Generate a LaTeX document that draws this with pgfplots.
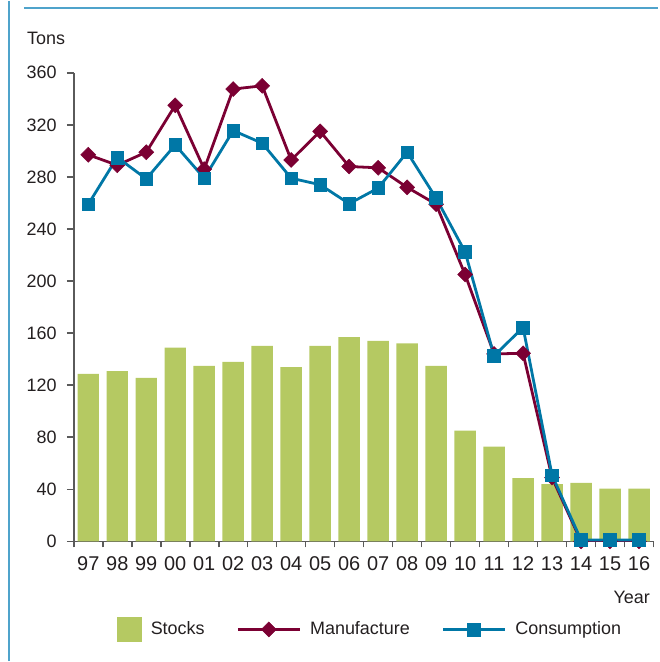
\documentclass[border=0pt]{standalone}
\usepackage{fontspec}
\setmainfont{Liberation Sans}
\usepackage{pgfplots}
\usepackage{pgfplotstable}
\pgfplotsset{compat=1.18}

\definecolor{stockgreen}{HTML}{B5C962}
\definecolor{manured}{HTML}{7B0033}
\definecolor{consblue}{HTML}{0077A6}
\definecolor{frameblue}{HTML}{4FA3CB}
\definecolor{axisgray}{HTML}{5A5A5A}
\definecolor{textgray}{HTML}{231F20}

\pgfplotsset{
  boxlegend/.style={legend image code/.code={\fill[stockgreen] (0pt,-12.5pt) rectangle (25pt,12.5pt);}},
  linelegend/.style={legend image code/.code={\draw[mark repeat=2, mark phase=2, ##1] plot coordinates {(0pt,0pt) (31pt,0pt) (62pt,0pt)};}},
}

% year index 0 = 1997 ... 19 = 2016
\pgfplotstableread{
x  stocks manuf cons
0  128.7  297.0 259.0
1  130.7  289.0 295.0
2  125.6  299.0 278.5
3  148.8  335.0 304.6
4  134.8  286.0 279.0
5  137.9  347.5 315.6
6  150.1  350.0 305.9
7  133.8  293.0 279.0
8  150.1  315.0 274.0
9  157.0  288.0 259.4
10 154.0  287.0 271.4
11 152.2  272.0 299.0
12 134.8  259.0 263.7
13 85.0   205.0 222.4
14 72.8   144.0 142.5
15 48.5   144.5 164.4
16 43.9   49.0  50.8
17 45.0   0.0   1.0
18 40.6   0.0   1.0
19 40.6   0.0   1.0
}\datatable

\begin{document}
\fontsize{18}{21}\selectfont
\color{textgray}
\begin{tikzpicture}
\begin{axis}[
  scale only axis, width=581.5pt, height=470pt,
  xmin=-0.5, xmax=19.5, ymin=0, ymax=360,
  axis lines*=left,
  axis line style={axisgray, line width=1.6pt},
  ytick={0,40,...,360},
  xtick={0,...,19},
  xticklabels={97,98,99,00,01,02,03,04,05,06,07,08,09,10,11,12,13,14,15,16},
  minor xtick={-0.5,0.5,...,19.5},
  tick align=outside, major tick length=7pt, minor tick length=6pt,
  every tick/.style={axisgray, line width=1.6pt},
  major x tick style={draw=none},
  /pgf/number format/assume math mode=true,
  yticklabel style={font=\fontsize{18}{20}\selectfont, text=textgray, inner sep=0pt, xshift=-10pt},
  xticklabel style={font=\fontsize{20}{22}\selectfont, text=textgray, inner sep=0pt, yshift=-8pt},
  legend columns=3,
  legend style={at={(axis description cs:0.074,-0.188)}, anchor=west, draw=none, fill=none,
    inner sep=0pt, font=\fontsize{18}{20}\selectfont, text=textgray,
    nodes={inner sep=0pt, anchor=west},
    /tikz/every odd column/.append style={column sep=9pt},
    /tikz/every even column/.append style={column sep=32pt}},
]
\addplot[ybar, bar width=0.74, fill=stockgreen, draw=none, boxlegend]
  table[x=x, y=stocks]{\datatable};
\addlegendentry{Stocks}
\addplot[manured, line width=2.8pt, mark=square*, mark size=5.3pt,
  mark options={rotate=45, solid, line width=0.5pt}, linelegend]
  table[x=x, y=manuf]{\datatable};
\addlegendentry{Manufacture}
\addplot[consblue, line width=2.8pt, mark=square*, mark size=6.4pt,
  mark options={solid, line width=0.5pt}, linelegend]
  table[x=x, y=cons]{\datatable};
\addlegendentry{Consumption}
\end{axis}
\node[anchor=base west, inner sep=0pt] at ([shift={(-47pt,498pt)}]current axis.south west) {Tons};
\node[anchor=base east, inner sep=0pt] at ([shift={(-3.5pt,-62pt)}]current axis.south east) {Year};
\draw[frameblue, line width=2pt] ([shift={(-65pt,-120pt)}]current axis.south west) -- ([shift={(-65pt,542pt)}]current axis.south west);
\draw[frameblue, line width=2pt] ([shift={(-50pt,535pt)}]current axis.south west) -- ([shift={(586pt,535pt)}]current axis.south west);
\path[use as bounding box] ([shift={(-74pt,-120pt)}]current axis.south west) rectangle ([shift={(586pt,542pt)}]current axis.south west);
\end{tikzpicture}
\end{document}
